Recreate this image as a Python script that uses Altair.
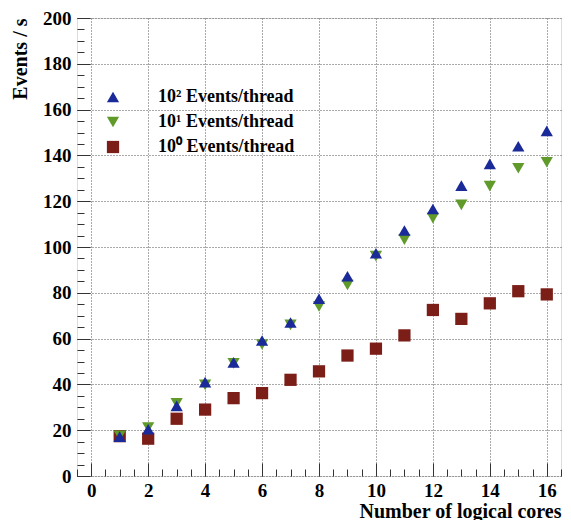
import altair as alt
import pandas as pd

cores = list(range(1, 17))
ev100 = [17.2, 20.4, 30.6, 41.0, 49.6, 59.2, 67.0, 77.4, 87.2, 97.3, 107.2, 116.6, 126.8, 136.3, 144.0, 150.7]
ev10 = [17.6, 21.2, 31.8, 39.8, 49.2, 57.4, 66.0, 74.0, 83.4, 96.0, 103.2, 112.6, 118.4, 126.6, 134.4, 137.0]
ev1 = [17.4, 16.3, 25.0, 29.0, 34.0, 36.2, 42.0, 45.7, 52.6, 55.6, 61.4, 72.5, 68.6, 75.4, 80.7, 79.3]

series = ["10² Events/thread", "10¹ Events/thread", "10⁰ Events/thread"]
colors = ["#1b2a99", "#5f9a2a", "#7c1e18"]
shapes = ["triangle-up", "triangle-down", "square"]
sizes = [150, 150, 140]

x_major = [0, 2, 4, 6, 8, 10, 12, 14, 16]
x_minor = [v / 2 for v in range(-1, 34)]
y_major = [0, 20, 40, 60, 80, 100, 120, 140, 160, 180, 200]
y_minor = list(range(0, 201, 5))

rows = []
for name, vals in [(series[2], ev1), (series[1], ev10), (series[0], ev100)]:
    for c, v in zip(cores, vals):
        rows.append({"cores": c, "rate": v, "series": name})
df = pd.DataFrame(rows)

FONT = "Liberation Serif"
xdom = [-0.5, 16.5]
ydom = [0, 200]

base = alt.Chart(df)

main = base.mark_point(filled=True, opacity=1).encode(
    x=alt.X("cores:Q", scale=alt.Scale(domain=xdom, nice=False, zero=False),
            axis=alt.Axis(orient="bottom", values=x_major, format="d", title="Number of logical cores",
                          ticks=False, domain=False, grid=True, gridDash=[1, 2], gridColor="#555",
                          gridWidth=1, labelFont=FONT, labelFontSize=19, labelFontWeight="bold",
                          labelColor="black", labelPadding=5, titleFont=FONT, titleFontSize=20,
                          titleFontWeight="bold", titleColor="black", titleAnchor="end",
                          titlePadding=1)),
    y=alt.Y("rate:Q", scale=alt.Scale(domain=ydom, nice=False),
            axis=alt.Axis(orient="left", values=y_major, title="Events / s",
                          ticks=False, domain=False, grid=True, gridDash=[1, 2], gridColor="#555",
                          gridWidth=1, labelFont=FONT, labelFontSize=19, labelFontWeight="bold",
                          labelColor="black", labelPadding=6, titleFont=FONT, titleFontSize=20,
                          titleFontWeight="bold", titleColor="black", titleAnchor="end",
                          titlePadding=12)),
    color=alt.Color("series:N", scale=alt.Scale(domain=series, range=colors),
                    legend=alt.Legend(orient="none", legendX=27, legendY=70, title=None,
                                      labelFont=FONT, labelFontSize=18, labelFontWeight="bold",
                                      labelColor="black", labelOffset=36, rowPadding=7,
                                      symbolSize=150, symbolStrokeWidth=0, padding=0)),
    shape=alt.Shape("series:N", scale=alt.Scale(domain=series, range=shapes)),
    size=alt.Size("series:N", scale=alt.Scale(domain=series, range=sizes)),
)

def tick_layer(xvals, yvals, length):
    return base.mark_point(opacity=0).encode(
        x=alt.X("cores:Q", scale=alt.Scale(domain=xdom, nice=False, zero=False),
                axis=alt.Axis(orient="bottom", values=xvals, labels=False, title=None, grid=False,
                              domain=False, ticks=True, tickSize=length, tickColor="#333",
                              tickWidth=1, offset=-length)),
        y=alt.Y("rate:Q", scale=alt.Scale(domain=ydom, nice=False),
                axis=alt.Axis(orient="left", values=yvals, labels=False, title=None, grid=False,
                              domain=False, ticks=True, tickSize=length, tickColor="#333",
                              tickWidth=1, offset=-length)),
    )

chart = alt.layer(main, tick_layer(x_major, y_major, 13), tick_layer(x_minor, y_minor, 7)).resolve_scale(
    x="independent", y="independent"
).properties(
    width=484, height=458,
    padding={"left": 69, "top": 10, "right": 2, "bottom": 44},
    autosize=alt.AutoSizeParams(type="none"),
).configure_view(stroke="#222", strokeWidth=1.2).configure(background="white", font=FONT)

chart.save("out.html", embed_options={"renderer": "svg", "actions": False})
